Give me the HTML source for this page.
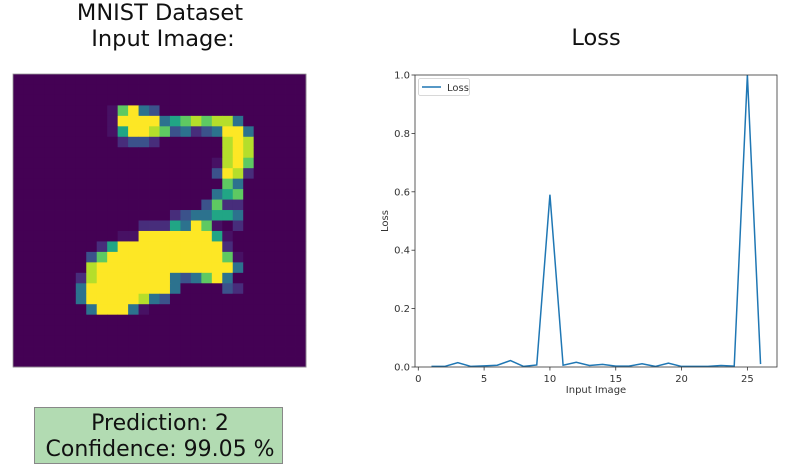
<!DOCTYPE html>
<html><head><meta charset="utf-8"><style>
html,body{margin:0;padding:0;background:#fff;width:793px;height:471px;overflow:hidden;font-family:"DejaVu Sans","Liberation Sans",sans-serif}
</style></head><body>
<svg width="793" height="471" xmlns="http://www.w3.org/2000/svg">
<text x="160" y="20" font-size="22.5" text-anchor="middle" fill="#111">MNIST Dataset</text>
<text x="163" y="46" font-size="22.5" text-anchor="middle" fill="#111">Input Image:</text>
<g id="img"></g>
<rect x="13" y="74" width="293" height="293" fill="none" stroke="#999" stroke-width="0.8"/>
<rect x="34.5" y="407.5" width="248" height="56" fill="#b2dbb2" stroke="#888"/>
<text x="160" y="430" font-size="22" text-anchor="middle" fill="#111">Prediction: 2</text>
<text x="160" y="456" font-size="22" text-anchor="middle" fill="#111">Confidence: 99.05 %</text>
<text x="596" y="45" font-size="22.5" text-anchor="middle" fill="#111">Loss</text>
<g id="chart"></g>
</svg>
<script>
const NS="http://www.w3.org/2000/svg";
const rows=[
"............................","............................","............................",
".........dGYtb..............",
".........dYYYYtgGyGyyt......",
".........dgYYyGbtpbtYYt.....",
"..........pbbp......yYy.....",
"....................yYy.....",
"...................dyYG.....",
"...................bYyp.....",
"....................Gt......",
"...................tgG......",
"..................bGpp......",
"...............pbttggt......",
"............pppgtYGd.p......",
"..........ddYYYYYYYgd.......",
"........pgYYYYYYYYYYp.......",
".......bGYYYYYYYYYYYGd......",
".......yYYYYYYYYYYYYYt......",
"......pyYYYYYYYtbtGYt......",
"......tYYYYYYYYt....bp......",
"......tYYYYYytb.............",
".......tYYYtd...............",
"............................","............................","............................","............................","............................"];
const cmap={'.':'#440154',d:'#471164',p:'#472d7b',b:'#3b528b',t:'#2c728e',g:'#21a585',G:'#5ec962',y:'#b5de2b',Y:'#fde725'};
const img=document.getElementById('img');const cs=293/28;
rows.forEach((r,i)=>{for(let j=0;j<28;j++){const c=r[j]||'.';const e=document.createElementNS(NS,'rect');
e.setAttribute('x',13+j*cs);e.setAttribute('y',74+i*cs);e.setAttribute('width',cs+0.4);e.setAttribute('height',cs+0.4);e.setAttribute('fill',cmap[c]);


img.appendChild(e);}});

// chart data
const xValues=[1,2,3,4,5,6,7,8,9,10,11,12,13,14,15,16,17,18,19,20,21,22,23,24,25,26];
const lossValues=[0.002,0.002,0.015,0.002,0.004,0.006,0.022,0.002,0.007,0.59,0.006,0.016,0.005,0.009,0.003,0.003,0.011,0.002,0.013,0.002,0.002,0.002,0.005,0.003,1.0,0.01];
const xTicks=[0,5,10,15,20,25];
const yTicks=[0.0,0.2,0.4,0.6,0.8,1.0];
const L=415,R=777,T=75,B=367;
const xmin=-0.25,xmax=27.25,ymin=0,ymax=1;
const sx=v=>L+(v-xmin)/(xmax-xmin)*(R-L);
const sy=v=>B-(v-ymin)/(ymax-ymin)*(B-T);
const ch=document.getElementById('chart');
function mk(tag,attrs,txt){const e=document.createElementNS(NS,tag);for(const k in attrs)e.setAttribute(k,attrs[k]);if(txt!==undefined)e.textContent=txt;ch.appendChild(e);return e;}
let e;
xTicks.forEach(t=>{
e=mk('line',{x1:sx(t),x2:sx(t),y1:B,y2:B+3.5,stroke:'#333','stroke-width':0.8});


e=mk('text',{x:sx(t),y:B+15,'font-size':10,'text-anchor':'middle',fill:'#333'},String(t));


});
yTicks.forEach(t=>{
e=mk('line',{x1:L-3.5,x2:L,y1:sy(t),y2:sy(t),stroke:'#333','stroke-width':0.8});


e=mk('text',{x:L-5,y:sy(t)+3.5,'font-size':10,'text-anchor':'end',fill:'#333'},t.toFixed(1));


});
const d=xValues.map((x,i)=>(i?'L':'M')+sx(x).toFixed(2)+','+sy(lossValues[i]).toFixed(2)).join(' ');
const cp=mk('clipPath',{id:'cp'});const cr=document.createElementNS(NS,'rect');cr.setAttribute('x',L);cr.setAttribute('y',T-1);cr.setAttribute('width',R-L);cr.setAttribute('height',B-T+1);cp.appendChild(cr);
e=mk('path',{d:d,fill:'none',stroke:'#1f77b4','stroke-width':1.5,'clip-path':'url(#cp)'});


e=mk('rect',{x:L,y:T,width:R-L,height:B-T,fill:'none',stroke:'#333','stroke-width':0.8});


e=mk('text',{x:(L+R)/2,y:393,'font-size':10,'text-anchor':'middle',fill:'#333'},'Input Image');


e=mk('text',{x:0,y:0,'font-size':10,'text-anchor':'middle',fill:'#333',transform:'translate(388,221) rotate(-90)'},'Loss');


e=mk('rect',{x:418.5,y:78.5,width:51,height:17,rx:2,fill:'#fff',stroke:'#ccc','stroke-width':0.8});


e=mk('line',{x1:422,x2:441,y1:87,y2:87,stroke:'#1f77b4','stroke-width':1.5});


e=mk('text',{x:447,y:91,'font-size':10,fill:'#333'},'Loss');


</script>
</body></html>
